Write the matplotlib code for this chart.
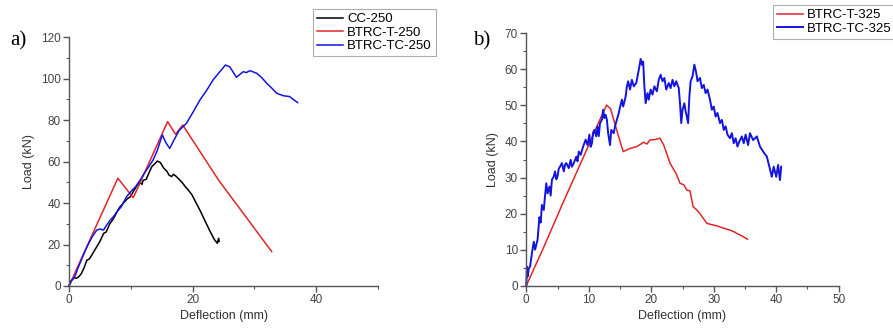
import matplotlib
matplotlib.use("Agg")
import matplotlib.pyplot as plt
from matplotlib.ticker import MultipleLocator

plt.rcParams['font.family'] = ['Liberation Sans', 'DejaVu Sans']

# ---------------- panel a) data ----------------
cc250_x = [0, 0.4, 0.8, 1.2, 1.6, 2.0, 2.4, 2.9, 3.3, 3.8, 4.5, 5.0, 5.6, 6.0, 6.6, 7.2, 7.8, 8.2,
           8.8, 9.4, 9.9, 10.5, 11.0, 11.5, 11.8, 12.0, 12.5, 13.0, 13.4, 13.9, 14.3, 14.8, 15.3,
           15.8, 16.2, 16.6, 16.9, 17.3, 17.8, 18.3, 18.8, 19.3, 19.9, 20.5, 21.2, 22.0, 22.8,
           23.5, 24.0, 24.2, 24.3]
cc250_y = [0, 2.5, 4.0, 3.7, 4.5, 6.0, 8.5, 12.5, 13.0, 15.5, 19.0, 21.5, 25.4, 26.0, 30.0, 32.5, 36.0, 38.0,
           40.0, 42.0, 43.0, 46.0, 48.5, 50.0, 49.0, 51.0, 51.5, 55.0, 57.6, 59.0, 60.3, 59.5, 57.0,
           55.5, 53.5, 52.8, 53.9, 53.0, 51.5, 50.0, 48.0, 46.3, 44.0, 40.5, 36.5, 31.5, 26.5,
           22.5, 20.6, 23.0, 21.5]

t250_x = [0, 7.9, 10.4, 15.96, 17.25, 18.4, 24.2, 32.8]
t250_y = [0, 52.0, 42.6, 79.3, 73.2, 77.7, 51.1, 16.6]

tc250_x = [0, 0.3, 0.7, 1.0, 1.5, 2.2, 3.0, 3.8, 4.5, 5.0, 5.6, 6.0, 6.6, 7.2, 7.8, 8.4, 9.3, 10.0,
           10.8, 11.5, 12.2, 12.9, 13.6, 14.3, 15.1, 15.7, 16.3, 17.0, 17.8, 19.0, 20.0, 21.2,
           22.3, 23.3, 24.3, 25.3, 26.0, 26.5, 27.1, 27.6, 28.2, 28.7, 29.3, 30.4, 31.2, 32.0,
           32.8, 33.6, 34.7, 35.7, 36.3, 37.0]
tc250_y = [0, 2.5, 3.5, 5.0, 9.0, 14.0, 19.5, 24.0, 27.0, 27.5, 27.0, 29.0, 31.5, 33.5, 36.0, 38.0, 43.0, 45.5,
           48.0, 51.0, 54.5, 57.5, 60.8, 65.5, 72.9, 69.0, 66.4, 70.5, 75.0, 78.5, 83.5, 89.8,
           94.5, 99.4, 103.0, 106.6, 105.8, 103.5, 100.7, 102.0, 103.4, 103.0, 103.9, 102.6, 100.5, 97.8,
           95.5, 93.0, 91.8, 91.4, 90.0, 88.5]

# ---------------- panel b) data ----------------
t325_x = [0, 3.0, 6.0, 9.1, 11.5, 12.86, 13.5, 14.5, 15.5, 16.5, 17.7, 18.8, 19.3, 19.8, 20.5, 21.4,
          22.0, 23.0, 24.0, 24.6, 25.2, 25.7, 26.2, 26.7, 27.3, 27.8, 28.4, 28.9, 29.5, 30.5, 31.5,
          32.6, 33.2, 33.7, 34.5, 35.4]
t325_y = [0, 11.5, 23.5, 35.5, 45.0, 50.1, 49.0, 43.0, 37.2, 38.0, 38.6, 39.8, 39.3, 40.4, 40.5, 40.9,
          39.0, 34.0, 31.0, 28.4, 28.0, 26.5, 26.3, 21.9, 21.0, 20.0, 18.5, 17.3, 17.0, 16.6, 16.0,
          15.4, 15.0, 14.5, 13.8, 12.9]

tc325_x = [0, 0.1, 0.2, 0.4, 0.6, 0.9, 1.2, 1.4, 1.8, 2.1, 2.3, 2.5, 2.8, 3.0, 3.2, 3.4, 3.7, 3.9, 4.1, 4.4, 4.6,
           4.8, 5.0, 5.2, 5.4, 5.7, 6.0, 6.2, 6.4, 6.8, 7.1, 7.3, 7.6, 8.0, 8.2, 8.4, 8.7, 8.9, 9.1, 9.5, 9.8,
           10.1, 10.3, 10.5, 10.7, 10.9, 11.2, 11.4, 11.6, 11.8, 12.1, 12.3, 12.5, 12.7, 12.9, 13.1, 13.4,
           13.6, 14.0, 14.2, 14.5, 14.8, 15.0, 15.3, 15.5, 15.7, 15.9, 16.1, 16.3, 16.6, 16.9, 17.2, 17.6,
           17.8, 18.1, 18.3, 18.5, 18.7, 18.9, 19.1, 19.4, 19.6, 19.9, 20.2, 20.5, 20.9, 21.2, 21.5,
           21.8, 22.1, 22.4, 22.8, 23.1, 23.4, 23.7, 24.0, 24.4, 24.6, 24.8, 25.0, 25.3, 25.5, 25.7,
           25.9, 26.1, 26.3, 26.6, 26.9, 27.2, 27.4, 27.8, 28.1, 28.4, 28.7, 29.0, 29.4, 29.7, 30.0,
           30.3, 30.6, 31.0, 31.3, 31.6, 31.9, 32.2, 32.6, 32.9, 33.2, 33.5, 33.8, 34.1, 34.5, 34.8,
           35.1, 35.5, 35.8, 36.3, 36.9, 37.4, 37.9, 38.5, 38.9, 39.3, 39.6, 40.0, 40.3, 40.6, 40.8]
tc325_y = [0, 5.3, 2.5, 4.8, 5.3, 9.0, 12.2, 10.0, 12.7, 19.0, 17.5, 22.4, 21.0, 25.0, 28.4, 25.6, 27.5, 25.0, 29.4, 30.3, 31.7,
           29.5, 30.3, 32.5, 33.0, 34.0, 31.7, 33.5, 34.0, 32.6, 34.9, 33.0, 34.0, 35.8, 34.5, 37.2, 36.3, 37.5, 38.6, 40.5, 39.0,
           41.9, 38.5, 39.5, 42.5, 43.2, 41.4, 44.2, 41.5, 45.1, 46.0, 48.8, 46.5, 47.4, 46.0, 42.3, 39.0,
           43.2, 42.3, 44.2, 46.0, 47.9, 49.5, 51.6, 49.7, 51.0, 52.5, 55.3, 56.7, 54.4, 57.1, 55.3, 56.2,
           58.0, 60.8, 62.9, 61.3, 62.2, 55.3, 50.6, 53.4, 51.6, 54.4, 53.0, 55.3, 53.9, 57.1, 58.5,
           56.7, 57.6, 54.4, 56.2, 54.8, 57.1, 55.3, 56.7, 54.8, 50.6, 45.1, 48.8, 50.6, 48.3, 46.9,
           45.1, 52.5, 56.7, 58.0, 61.3, 59.0, 56.7, 57.6, 54.8, 55.7, 53.4, 54.4, 51.6, 48.8, 49.7,
           46.9, 47.9, 45.1, 46.0, 43.2, 44.2, 41.9, 40.9, 42.3, 39.5, 40.9, 38.6, 40.0, 41.4, 39.5,
           41.9, 39.0, 42.3, 40.4, 41.4, 38.6, 37.2, 35.8, 33.0, 30.2, 33.0, 30.2, 33.5, 29.3, 33.0]

red = '#e0262b'
blue = '#1414e0'
grey = '#555555'

fig = plt.figure(figsize=(8.93, 3.28), dpi=100)
W, H = 893.0, 328.0


def style(ax, xmax, ymax, xmaj, xmin, ymaj, ymin):
    ax.set_xlim(0, xmax)
    ax.set_ylim(0, ymax)
    ax.xaxis.set_major_locator(MultipleLocator(xmaj))
    ax.xaxis.set_minor_locator(MultipleLocator(xmin))
    ax.yaxis.set_major_locator(MultipleLocator(ymaj))
    ax.yaxis.set_minor_locator(MultipleLocator(ymin))
    for s in ['top', 'right']:
        ax.spines[s].set_visible(False)
    for s in ['left', 'bottom']:
        ax.spines[s].set_color(grey)
        ax.spines[s].set_linewidth(1.0)
    ax.tick_params(which='major', direction='out', length=4, width=1.0, color=grey,
                   labelsize=8.5, labelcolor='#444444', pad=2)
    ax.tick_params(which='minor', direction='out', length=2, width=0.8, color=grey)
    ax.set_xlabel('Deflection (mm)', fontsize=9, color='#333333', labelpad=3)
    ax.set_ylabel('Load (kN)', fontsize=9, color='#333333', labelpad=4)


ax1 = fig.add_axes([69 / W, 1 - 286 / H, 309 / W, (286 - 37.3) / H])
l1, = ax1.plot(cc250_x, cc250_y, color='black', lw=1.1, label='CC-250', clip_on=False)
l2, = ax1.plot(t250_x, t250_y, color=red, lw=1.1, label='BTRC-T-250', clip_on=False)
l3, = ax1.plot(tc250_x, tc250_y, color=blue, lw=1.1, label='BTRC-TC-250', clip_on=False)
style(ax1, 50, 120, 20, 10, 20, 10)

ax2 = fig.add_axes([526.3 / W, 1 - 285.7 / H, (838.7 - 526.3) / W, (285.7 - 33.3) / H])
m1, = ax2.plot(t325_x, t325_y, color=red, lw=1.1, label='BTRC-T-325', clip_on=False)
m2, = ax2.plot(tc325_x, tc325_y, color=blue, lw=1.4, label='BTRC-TC-325', clip_on=False)
style(ax2, 50, 70, 10, 5, 10, 5)

leg1 = fig.legend(handles=[l1, l2, l3], loc='upper left',
                  bbox_to_anchor=(313 / W, 1 - 9 / H), fontsize=9.5,
                  frameon=True, fancybox=False, edgecolor='#999999',
                  handlelength=2.0, handletextpad=0.3, labelspacing=0.1,
                  borderpad=0.3, borderaxespad=0)
leg1.get_frame().set_linewidth(0.8)

leg2 = fig.legend(handles=[m1, m2], loc='upper left',
                  bbox_to_anchor=(773 / W, 1 - 5 / H), fontsize=9.5,
                  frameon=True, fancybox=False, edgecolor='#999999',
                  handlelength=2.0, handletextpad=0.3, labelspacing=0.1,
                  borderpad=0.3, borderaxespad=0)
leg2.get_frame().set_linewidth(0.8)

fig.text(10 / W, 1 - 41 / H, 'a)', family=['Liberation Serif', 'DejaVu Serif'],
         fontsize=15, va='center', ha='left', color='black')
fig.text(473 / W, 1 - 41 / H, 'b)', family=['Liberation Serif', 'DejaVu Serif'],
         fontsize=15, va='center', ha='left', color='black')

fig.savefig('out.png', dpi=100)
